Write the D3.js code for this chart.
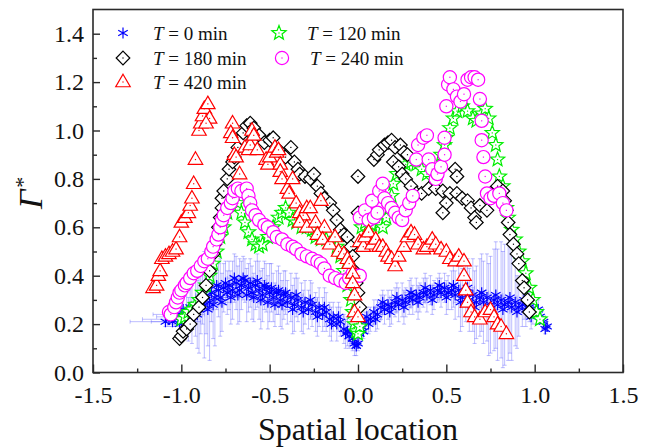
<!DOCTYPE html>
<html><head><meta charset="utf-8">
<script src="https://cdn.jsdelivr.net/npm/d3@7"></script>
<style>body{margin:0;background:#fff}svg{display:block}</style>
</head><body><svg id="c" width="652" height="448"></svg>
<script>
// ---------- data ----------
const xTicks = [-1.5, -1.0, -0.5, 0.0, 0.5, 1.0, 1.5];
const xMinor = [-1.25, -0.75, -0.25, 0.25, 0.75, 1.25];
const yTicks = [0.0, 0.2, 0.4, 0.6, 0.8, 1.0, 1.2, 1.4];
const yMinor = [0.1, 0.3, 0.5, 0.7, 0.9, 1.1, 1.3];
const seriesNames = ["T = 0 min", "T = 120 min", "T = 180 min", "T = 240 min", "T = 420 min"];

// T = 0 min : [x, y, xErr, yErr]
const t0 = [
[-1.09,0.21,0.20,0.02],[-1.07,0.22,0.15,0.03],[-1.05,0.21,0.12,0.02],[-1.04,0.23,0.10,0.04],[-1.02,0.24,0.08,0.05],[-1.00,0.22,0.06,0.06],[-0.99,0.26,0.06,0.07],[-0.97,0.25,0.05,0.08],[-0.95,0.27,0.05,0.10],[-0.94,0.24,0.05,0.12],[-0.92,0.28,0.04,0.13],[-0.90,0.26,0.04,0.18],[-0.89,0.30,0.04,0.14],[-0.87,0.28,0.04,0.22],[-0.86,0.31,0.03,0.15],[-0.84,0.29,0.03,0.24],[-0.83,0.33,0.03,0.12],[-0.81,0.31,0.04,0.20],[-0.79,0.34,0.04,0.11],[-0.78,0.31,0.05,0.16],[-0.76,0.35,0.04,0.10],[-0.74,0.33,0.04,0.09],[-0.73,0.36,0.05,0.10],[-0.71,0.34,0.05,0.12],[-0.69,0.37,0.04,0.11],[-0.67,0.34,0.04,0.13],[-0.66,0.36,0.05,0.10],[-0.64,0.38,0.05,0.09],[-0.62,0.35,0.04,0.10],[-0.60,0.33,0.05,0.11],[-0.58,0.36,0.04,0.10],[-0.56,0.34,0.05,0.12],[-0.54,0.32,0.05,0.11],[-0.52,0.35,0.04,0.10],[-0.50,0.33,0.05,0.12],[-0.48,0.31,0.05,0.10],[-0.46,0.33,0.04,0.09],[-0.44,0.30,0.05,0.11],[-0.42,0.32,0.04,0.10],[-0.40,0.29,0.05,0.09],[-0.38,0.31,0.04,0.10],[-0.36,0.28,0.05,0.11],[-0.34,0.30,0.04,0.09],[-0.32,0.27,0.04,0.10],[-0.30,0.29,0.05,0.09],[-0.28,0.26,0.04,0.08],[-0.26,0.28,0.04,0.09],[-0.24,0.25,0.04,0.08],[-0.22,0.27,0.03,0.08],[-0.20,0.24,0.04,0.07],[-0.18,0.25,0.03,0.08],[-0.16,0.22,0.03,0.07],[-0.14,0.23,0.03,0.06],[-0.12,0.20,0.03,0.07],[-0.10,0.21,0.03,0.06],[-0.08,0.18,0.02,0.06],[-0.06,0.17,0.02,0.06],[-0.05,0.15,0.02,0.05],[-0.03,0.14,0.02,0.05],[-0.02,0.12,0.02,0.05],[-0.01,0.11,0.02,0.04],[0.00,0.12,0.02,0.03],
[-1.06,0.24,0.10,0.03],[-1.01,0.20,0.07,0.05],[-0.96,0.22,0.05,0.09],[-0.91,0.24,0.04,0.14],[-0.88,0.32,0.04,0.12],[-0.85,0.26,0.03,0.15],[-0.82,0.28,0.04,0.14],[-0.80,0.36,0.04,0.10],[-0.77,0.29,0.05,0.12],[-0.75,0.37,0.04,0.09],[-0.72,0.31,0.05,0.11],[-0.70,0.39,0.04,0.10],[-0.68,0.32,0.04,0.12],[-0.65,0.39,0.05,0.09],[-0.63,0.32,0.04,0.11],[-0.61,0.37,0.05,0.10],[-0.59,0.31,0.04,0.10],[-0.57,0.38,0.05,0.11],[-0.55,0.30,0.05,0.12],[-0.53,0.36,0.04,0.10],[-0.51,0.29,0.05,0.11],[-0.49,0.35,0.05,0.10],[-0.47,0.28,0.04,0.09],[-0.45,0.34,0.05,0.10],[-0.43,0.28,0.04,0.10],[-0.41,0.33,0.05,0.09],[-0.37,0.26,0.05,0.10],[-0.35,0.32,0.04,0.09],[-0.31,0.25,0.04,0.09],[-0.27,0.30,0.04,0.08],[-0.23,0.23,0.04,0.08],[-0.19,0.27,0.03,0.08],[-0.15,0.20,0.03,0.07],[-0.11,0.23,0.03,0.06],[-0.07,0.16,0.02,0.06],[-0.04,0.17,0.02,0.05],
[0.01,0.16,0.02,0.03],[0.02,0.19,0.02,0.03],[0.04,0.21,0.02,0.04],[0.05,0.23,0.03,0.04],[0.07,0.22,0.03,0.05],[0.09,0.25,0.03,0.05],[0.11,0.24,0.03,0.06],[0.13,0.27,0.03,0.05],[0.15,0.26,0.04,0.06],[0.17,0.28,0.04,0.06],[0.19,0.27,0.04,0.07],[0.21,0.29,0.04,0.06],[0.23,0.28,0.04,0.07],[0.25,0.30,0.04,0.07],[0.27,0.29,0.04,0.06],[0.29,0.31,0.04,0.07],[0.31,0.30,0.04,0.06],[0.33,0.32,0.04,0.07],[0.35,0.31,0.04,0.06],[0.37,0.33,0.04,0.06],[0.39,0.32,0.04,0.07],[0.41,0.34,0.04,0.06],[0.43,0.32,0.04,0.06],[0.45,0.34,0.04,0.05],[0.47,0.33,0.04,0.06],[0.49,0.35,0.04,0.06],[0.51,0.33,0.04,0.07],[0.53,0.34,0.04,0.08],[0.55,0.32,0.04,0.10],[0.57,0.34,0.04,0.11],[0.59,0.31,0.04,0.12],[0.61,0.33,0.04,0.12],[0.63,0.30,0.04,0.13],[0.65,0.32,0.04,0.15],[0.67,0.29,0.04,0.15],[0.69,0.31,0.04,0.16],[0.71,0.29,0.04,0.17],[0.73,0.31,0.04,0.18],[0.75,0.28,0.04,0.20],[0.77,0.30,0.04,0.21],[0.79,0.28,0.04,0.23],[0.81,0.30,0.04,0.24],[0.83,0.28,0.04,0.25],[0.85,0.29,0.04,0.24],[0.87,0.27,0.04,0.22],[0.89,0.29,0.04,0.18],[0.91,0.27,0.04,0.12],[0.93,0.28,0.04,0.09],[0.95,0.26,0.04,0.07],[0.97,0.27,0.04,0.06],[0.99,0.25,0.03,0.05],[1.01,0.24,0.03,0.04],[1.03,0.23,0.03,0.03],[1.05,0.21,0.02,0.02],[1.07,0.19,0.02,0.02],
[0.03,0.17,0.02,0.03],[0.06,0.20,0.03,0.04],[0.10,0.22,0.03,0.05],[0.14,0.29,0.03,0.05],[0.18,0.25,0.04,0.06],[0.22,0.31,0.04,0.06],[0.26,0.27,0.04,0.07],[0.30,0.33,0.04,0.06],[0.34,0.29,0.04,0.07],[0.38,0.35,0.04,0.06],[0.42,0.30,0.04,0.06],[0.46,0.36,0.04,0.05],[0.50,0.31,0.04,0.07],[0.54,0.36,0.04,0.09],[0.58,0.29,0.04,0.12],[0.62,0.35,0.04,0.12],[0.66,0.27,0.04,0.15],[0.70,0.33,0.04,0.16],[0.74,0.26,0.04,0.19],[0.78,0.32,0.04,0.22],[0.82,0.26,0.04,0.24],[0.86,0.31,0.04,0.23],[0.90,0.25,0.04,0.15],[0.94,0.30,0.04,0.08],[0.98,0.23,0.03,0.05],[1.02,0.26,0.03,0.04],[1.06,0.18,0.02,0.02]
];

// T = 120 min : [x, y]
const t120 = [
[-1.00,0.22],[-0.98,0.23],[-0.96,0.25],[-0.94,0.26],[-0.92,0.28],[-0.90,0.30],[-0.88,0.33],[-0.86,0.36],[-0.84,0.40],[-0.82,0.45],[-0.80,0.50],[-0.78,0.56],[-0.76,0.60],[-0.74,0.66],[-0.72,0.70],[-0.70,0.72],[-0.68,0.70],[-0.66,0.66],[-0.64,0.62],[-0.62,0.58],[-0.60,0.55],[-0.58,0.53],[-0.56,0.52],[-0.54,0.53],[-0.51,0.56],[-0.48,0.60],[-0.45,0.64],[-0.43,0.66],[-0.41,0.68],[-0.39,0.66],[-0.37,0.63],[-0.35,0.62],[-0.32,0.60],[-0.29,0.60],[-0.26,0.59],[-0.24,0.56],[-0.21,0.55],[-0.18,0.55],[-0.15,0.54],[-0.12,0.52],[-0.10,0.48],[-0.08,0.42],[-0.06,0.36],[-0.04,0.30],[-0.03,0.25],[-0.02,0.20],[-0.01,0.17],[0.00,0.16],[0.01,0.19],
[0.02,0.60],[0.04,0.62],[0.06,0.58],[0.08,0.61],[0.10,0.63],[0.12,0.62],[0.14,0.60],[0.16,0.64],[0.18,0.68],[0.19,0.73],[0.20,0.78],[0.22,0.82],[0.24,0.84],[0.27,0.86],[0.30,0.87],[0.33,0.86],[0.36,0.84],[0.39,0.82],[0.42,0.80],[0.45,0.84],[0.47,0.90],[0.49,0.94],[0.50,0.97],[0.52,1.01],[0.54,1.05],[0.56,1.08],[0.59,1.10],[0.62,1.08],[0.65,1.05],[0.67,1.04],[0.70,1.07],[0.72,1.09],[0.74,1.05],[0.76,0.99],[0.78,0.94],[0.79,0.88],[0.80,0.81],[0.82,0.77],[0.84,0.68],[0.85,0.64],[0.87,0.59],[0.89,0.55],[0.91,0.50],[0.93,0.46],[0.95,0.41],[0.97,0.35],[0.99,0.30],[1.01,0.25],[1.03,0.22]
];

// T = 180 min : [x, y]
const t180 = [
[-1.01,0.14],[-1.00,0.15],[-0.99,0.17],[-0.97,0.18],[-0.95,0.20],[-0.93,0.24],[-0.90,0.27],[-0.88,0.31],[-0.86,0.36],[-0.84,0.42],[-0.82,0.49],[-0.81,0.53],[-0.79,0.60],[-0.78,0.64],[-0.77,0.68],[-0.77,0.72],[-0.76,0.75],[-0.74,0.80],[-0.73,0.84],[-0.71,0.87],[-0.70,0.89],[-0.68,0.93],[-0.66,0.97],[-0.65,0.99],[-0.63,1.02],[-0.61,1.03],[-0.59,1.01],[-0.56,0.98],[-0.53,0.95],[-0.50,0.96],[-0.48,0.97],[-0.45,0.92],[-0.41,0.89],[-0.38,0.93],[-0.36,0.87],[-0.34,0.84],[-0.33,0.82],[-0.30,0.81],[-0.27,0.80],[-0.25,0.82],[-0.23,0.77],[-0.21,0.74],[-0.19,0.72],[-0.16,0.70],[-0.14,0.67],[-0.12,0.63],[-0.10,0.59],[-0.08,0.57],[-0.06,0.56],[-0.04,0.52],[-0.03,0.48],[-0.02,0.42],[-0.01,0.37],[0.00,0.33],[0.01,0.27],
[0.00,0.81],[0.00,0.66],
[0.09,0.88],[0.11,0.90],[0.12,0.92],[0.15,0.94],[0.17,0.95],[0.19,0.96],[0.21,0.93],[0.24,0.94],[0.26,0.91],[0.28,0.90],[0.20,0.87],[0.23,0.85],[0.25,0.82],[0.27,0.80],[0.30,0.77],[0.33,0.74],[0.36,0.74],[0.40,0.76],[0.44,0.76],[0.48,0.75],[0.52,0.74],[0.55,0.84],[0.56,0.81],[0.50,0.70],[0.48,0.66],[0.56,0.74],[0.59,0.72],[0.62,0.71],[0.64,0.68],[0.66,0.64],[0.67,0.62],[0.69,0.69],[0.73,0.67],[0.75,0.74],[0.79,0.77],[0.82,0.75],[0.83,0.71],[0.84,0.67],[0.85,0.62],[0.86,0.57],[0.88,0.53],[0.90,0.49],[0.91,0.45],[0.93,0.38],[0.94,0.35],[0.96,0.30],[0.97,0.25]
];

// T = 240 min : [x, y]
const t240 = [
[-1.07,0.25],[-1.06,0.24],[-1.04,0.27],[-1.03,0.29],[-1.02,0.31],[-1.01,0.33],[-1.00,0.34],[-0.98,0.36],[-0.97,0.37],[-0.95,0.39],[-0.93,0.41],[-0.91,0.42],[-0.89,0.44],[-0.87,0.46],[-0.85,0.47],[-0.83,0.50],[-0.82,0.52],[-0.80,0.55],[-0.79,0.57],[-0.78,0.60],[-0.77,0.63],[-0.76,0.65],[-0.74,0.68],[-0.72,0.70],[-0.71,0.72],[-0.70,0.75],[-0.68,0.76],[-0.66,0.75],[-0.63,0.76],[-0.62,0.73],[-0.61,0.70],[-0.60,0.67],[-0.58,0.65],[-0.56,0.63],[-0.53,0.61],[-0.51,0.60],[-0.48,0.58],[-0.46,0.56],[-0.43,0.55],[-0.40,0.53],[-0.37,0.52],[-0.35,0.51],[-0.32,0.49],[-0.29,0.48],[-0.26,0.47],[-0.23,0.46],[-0.21,0.45],[-0.19,0.43],[-0.16,0.40],[-0.13,0.39],[-0.10,0.38],[-0.07,0.37],[-0.05,0.39],[-0.03,0.41],[-0.01,0.40],[0.01,0.40],
[0.01,0.64],[0.04,0.67],[0.06,0.63],[0.08,0.71],[0.09,0.64],[0.11,0.66],[0.12,0.75],[0.14,0.78],[0.15,0.72],[0.17,0.70],[0.19,0.68],[0.21,0.66],[0.23,0.64],[0.25,0.63],[0.27,0.67],[0.29,0.70],[0.31,0.73],[0.33,0.88],[0.34,0.94],[0.37,0.97],[0.39,0.98],[0.40,0.88],[0.42,0.84],[0.44,0.80],[0.45,0.82],[0.47,0.85],[0.49,0.90],[0.49,0.97],[0.50,1.10],[0.51,1.19],[0.52,1.22],[0.54,1.17],[0.56,1.14],[0.58,1.12],[0.60,1.15],[0.62,1.21],[0.64,1.22],[0.66,1.22],[0.68,1.21],[0.69,1.13],[0.70,1.04],[0.70,0.96],[0.71,0.89],[0.72,0.81],[0.73,0.74],[0.75,0.72],[0.77,0.73],[0.80,0.74],[0.82,0.70],[0.84,0.67]
];

// T = 420 min : [x, y]
const t420 = [
[-1.16,0.35],[-1.14,0.36],[-1.13,0.40],[-1.12,0.42],[-1.11,0.47],[-1.09,0.48],[-1.07,0.49],[-1.05,0.50],[-1.03,0.51],[-1.01,0.56],[-1.00,0.62],[-0.98,0.64],[-0.96,0.66],[-0.95,0.69],[-0.94,0.72],[-0.93,0.78],[-0.92,0.88],[-0.90,1.00],[-0.89,1.03],[-0.88,1.06],[-0.87,1.09],[-0.85,1.11],[-0.84,1.05],[-0.86,1.03],
[-0.71,1.03],[-0.72,0.99],[-0.71,0.97],[-0.70,0.90],[-0.69,0.89],[-0.67,0.82],[-0.64,0.93],[-0.62,0.92],[-0.61,0.94],[-0.60,1.00],[-0.59,0.98],[-0.57,0.92],[-0.52,0.88],[-0.51,0.86],[-0.50,0.89],[-0.47,0.93],[-0.46,0.91],[-0.45,0.92],[-0.44,0.86],[-0.44,0.83],[-0.43,0.80],[-0.40,0.76],[-0.39,0.74],[-0.37,0.80],[-0.35,0.70],[-0.33,0.66],[-0.31,0.65],[-0.29,0.68],[-0.27,0.68],[-0.33,0.62],[-0.29,0.60],[-0.24,0.62],[-0.21,0.71],[-0.19,0.60],[-0.23,0.57],[-0.20,0.55],[-0.16,0.53],[-0.13,0.56],[-0.11,0.50],[-0.08,0.49],[-0.06,0.47],[-0.05,0.45],[-0.03,0.41],[-0.03,0.37],[-0.02,0.32],[-0.02,0.25],[0.00,0.23],
[0.01,0.54],[0.03,0.52],[0.04,0.56],[0.06,0.58],[0.08,0.53],[0.10,0.55],[0.12,0.52],[0.14,0.52],[0.16,0.50],[0.17,0.48],[0.19,0.47],[0.21,0.44],[0.23,0.48],[0.26,0.52],[0.28,0.56],[0.30,0.58],[0.32,0.57],[0.34,0.53],[0.37,0.51],[0.39,0.52],[0.42,0.55],[0.44,0.53],[0.47,0.51],[0.50,0.50],[0.52,0.47],[0.55,0.46],[0.57,0.48],[0.60,0.46],[0.60,0.40],[0.61,0.34],[0.62,0.29],[0.64,0.25],[0.66,0.23],[0.69,0.22],[0.72,0.25],[0.75,0.26],[0.77,0.23],[0.79,0.20],[0.81,0.19],[0.84,0.16]
];

// ---------- drawing ----------
const svg = d3.select("#c");
const font = "'Liberation Serif','Times New Roman',serif";
const x = d3.scaleLinear().domain([-1.5, 1.5]).range([93, 623]);
const y = d3.scaleLinear().domain([0, 1.5]).range([372.5, 9.5]);

function pAst(r){const a=r*0.866,b=r*0.5;return `M0,${-r}L0,${r}M${-a},${-b}L${a},${b}M${-a},${b}L${a},${-b}`;}
function pDia(r){return `M0,${-r}L${r},0L0,${r}L${-r},0Z`;}
function pTri(w,h){return `M0,${-h*0.62}L${w/2},${h*0.38}L${-w/2},${h*0.38}Z`;}
function pCirc(r){return `M${r},0A${r},${r} 0 1 1 ${-r},0A${r},${r} 0 1 1 ${r},0Z`;}
function pStar(R,r){let s="";for(let i=0;i<10;i++){const rr=i%2?r:R;const a=-Math.PI/2+i*Math.PI/5;s+=(i?"L":"M")+(rr*Math.cos(a)).toFixed(2)+","+(rr*Math.sin(a)).toFixed(2);}return s+"Z";}

const styles = {
  t0:   {path:pAst(5.5),      color:"#0000ff", fill:"none"},
  t120: {path:pStar(7.5,3.2), color:"#00ee00", fill:"#fff"},
  t180: {path:pDia(6.8),      color:"#000000", fill:"#fff"},
  t240: {path:pCirc(6.6),     color:"#ff00ff", fill:"#fff"},
  t420: {path:pTri(14.5,12.5),color:"#ff0000", fill:"#fff"}
};

const plot = svg.append("g");

const eb = plot.append("g").attr("stroke","#5a5aff").attr("stroke-opacity",0.4).attr("stroke-width",1).attr("fill","none");
t0.forEach(d=>{
  const cx=x(d[0]), cy=y(d[1]);
  const x1=x(d[0]-d[2]), x2=x(d[0]+d[2]);
  const y1=y(d[1]-d[3]), y2=y(d[1]+d[3]);
  eb.append("path").attr("d",`M${x1},${cy}L${x2},${cy}M${x1},${cy-2}L${x1},${cy+2}M${x2},${cy-2}L${x2},${cy+2}M${cx},${y1}L${cx},${y2}M${cx-2},${y1}L${cx+2},${y1}M${cx-2},${y2}L${cx+2},${y2}`);
});

function drawSeries(data, st){
  const g = plot.append("g");
  g.selectAll("g.m").data(data).join("g")
    .attr("transform", d=>`translate(${x(d[0])},${y(d[1])})`)
    .each(function(){
      const s=d3.select(this);
      s.append("path").attr("d",st.path).attr("fill",st.fill).attr("stroke",st.color).attr("stroke-width",1.2);
      if(st.fill!=="none") s.append("rect").attr("x",-0.6).attr("y",-0.6).attr("width",1.2).attr("height",1.2).attr("fill",st.color);
    });
}
drawSeries(t0, styles.t0);
drawSeries(t120, styles.t120);
drawSeries(t180, styles.t180);
drawSeries(t240, styles.t240);
drawSeries(t420, styles.t420);

svg.append("rect").attr("x",93).attr("y",9.5).attr("width",530).attr("height",363)
  .attr("fill","none").attr("stroke","#2a2a2a").attr("stroke-width",1.6);

const fmt = d => d.toFixed(1);
const xa = svg.append("g").attr("transform","translate(0,372.5)")
  .call(d3.axisBottom(x).tickValues(xTicks).tickSize(-8).tickFormat(fmt));
xa.selectAll("text").attr("y",30).attr("dy",0);
const xm = svg.append("g").attr("transform","translate(0,372.5)")
  .call(d3.axisBottom(x).tickValues(xMinor).tickSize(-4).tickFormat(""));
const ya = svg.append("g").attr("transform","translate(93,0)")
  .call(d3.axisLeft(y).tickValues(yTicks).tickSize(-7).tickPadding(9).tickFormat(fmt));
const ym = svg.append("g").attr("transform","translate(93,0)")
  .call(d3.axisLeft(y).tickValues(yMinor).tickSize(-4).tickFormat(""));
[xa,xm,ya,ym].forEach(a=>{
  a.select(".domain").remove();
  a.selectAll("line").attr("stroke","#2a2a2a").attr("stroke-width",1.4);
  a.selectAll("text").attr("font-family",font).attr("font-size",24).attr("fill","#111");
});

svg.append("text").attr("x",358).attr("y",440).attr("text-anchor","middle")
  .attr("font-family",font).attr("font-size",32).attr("fill","#111").text("Spatial location");
const yt = svg.append("text").attr("transform","translate(42,209) rotate(-90)")
  .attr("font-family",font).attr("fill","#111");
yt.append("tspan").attr("font-size",34).attr("font-style","italic").text("Γ");
yt.append("tspan").attr("font-size",22).attr("dy",-12).attr("dx",2).text("*");

const legItems = [
  {key:"t0",   sx:123, sy:33, tx:153, label:seriesNames[0]},
  {key:"t180", sx:123, sy:58, tx:153, label:seriesNames[2]},
  {key:"t420", sx:123, sy:82, tx:153, label:seriesNames[4]},
  {key:"t120", sx:279, sy:33, tx:307, label:seriesNames[1]},
  {key:"t240", sx:282, sy:58, tx:310, label:seriesNames[3]}
];
const leg = svg.append("g");
legItems.forEach(it=>{
  const st=styles[it.key];
  const g=leg.append("g").attr("transform",`translate(${it.sx},${it.sy})`);
  g.append("path").attr("d",st.path).attr("fill",st.fill).attr("stroke",st.color).attr("stroke-width",1.2);
  if(st.fill!=="none") g.append("rect").attr("x",-0.6).attr("y",-0.6).attr("width",1.2).attr("height",1.2).attr("fill",st.color);
  const t=leg.append("text").attr("x",it.tx).attr("y",it.sy+6.5).attr("font-family",font).attr("font-size",19).attr("fill","#111");
  t.append("tspan").attr("font-style","italic").text("T");
  t.append("tspan").text(it.label.slice(1));
});
</script>
</body></html>
